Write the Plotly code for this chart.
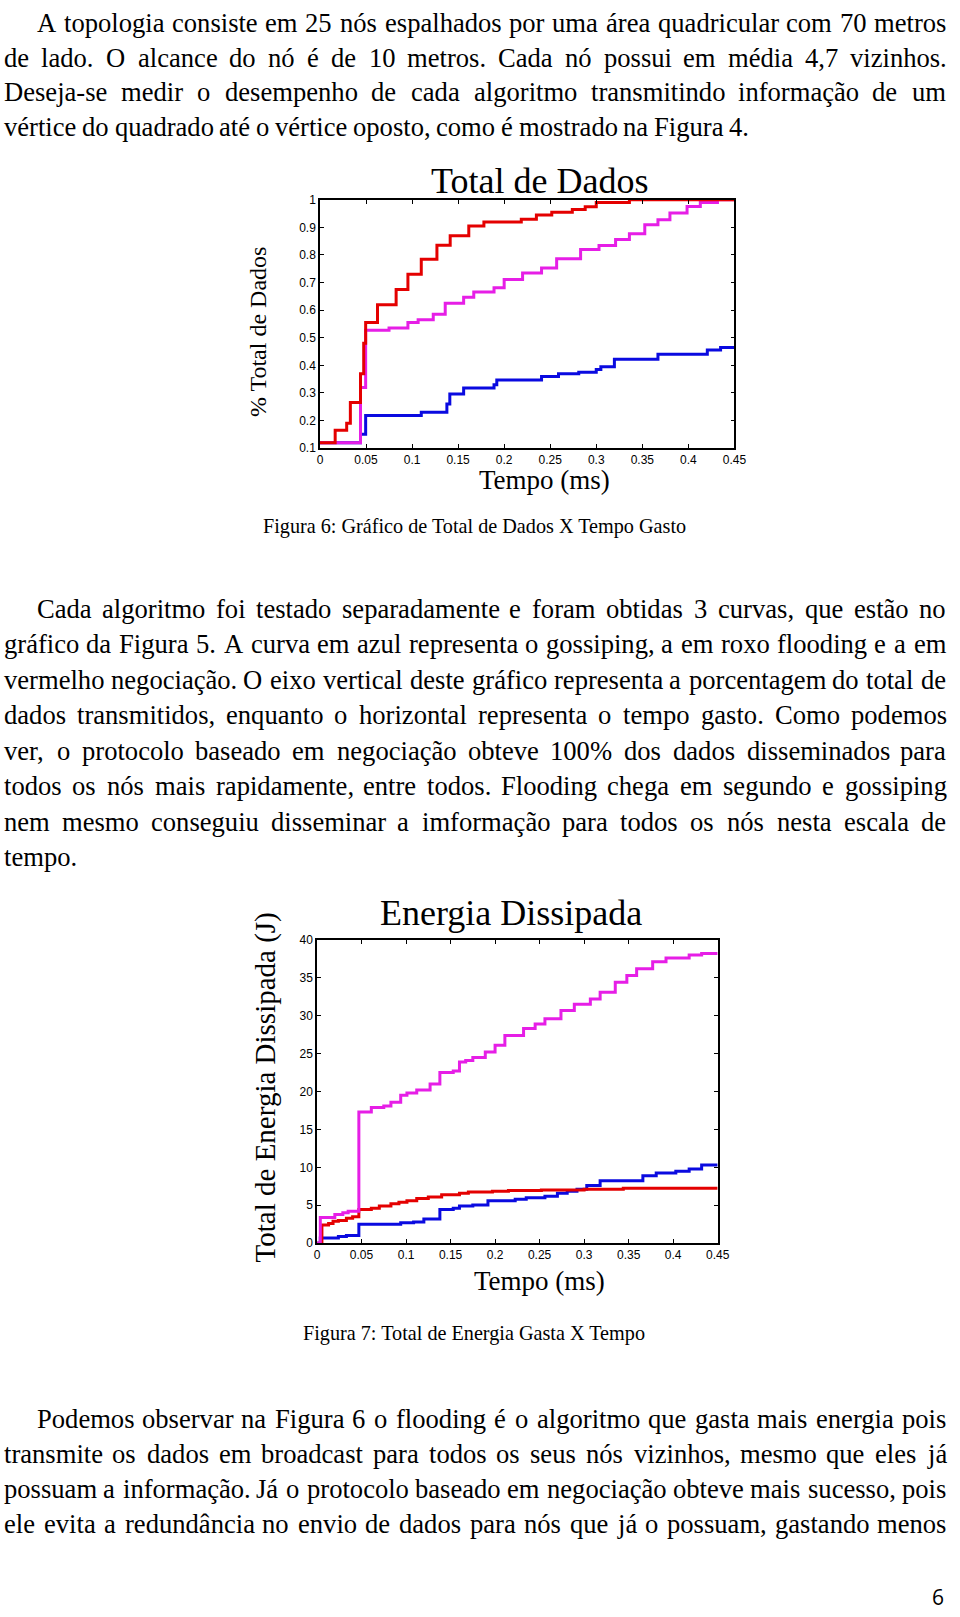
import unicodedata
import plotly.graph_objects as go

# ---------------- data: Figura 6 (Total de Dados) ----------------
dados_neg_t = [0, 0.0165, 0.029, 0.033, 0.044, 0.0475, 0.0496, 0.0625, 0.0827, 0.0955, 0.110, 0.127,
               0.1414, 0.1616, 0.178, 0.2186, 0.235, 0.2517, 0.274, 0.288, 0.300, 0.336, 0.45]
dados_neg_v = [0.12, 0.165, 0.19, 0.265, 0.37, 0.48, 0.555, 0.62, 0.675, 0.73, 0.785, 0.835,
               0.87, 0.905, 0.92, 0.93, 0.945, 0.955, 0.965, 0.975, 0.99, 1.0, 1.0]

dados_flood_t = [0, 0.044, 0.0496, 0.075, 0.0955, 0.1066, 0.123, 0.136, 0.156, 0.167, 0.189, 0.200,
                 0.220, 0.2406, 0.257, 0.283, 0.303, 0.321, 0.336, 0.3527, 0.367, 0.380, 0.3986,
                 0.413, 0.4316, 0.45]
dados_flood_v = [0.12, 0.32, 0.527, 0.535, 0.555, 0.565, 0.585, 0.625, 0.647, 0.666, 0.681, 0.711,
                 0.735, 0.753, 0.786, 0.82, 0.834, 0.856, 0.877, 0.91, 0.928, 0.952, 0.976,
                 0.99, 1.0, 1.0]

dados_goss_t = [0, 0.044, 0.0496, 0.110, 0.1378, 0.141, 0.156, 0.189, 0.192, 0.2406, 0.259, 0.281,
                0.300, 0.305, 0.3197, 0.367, 0.4206, 0.435, 0.45]
dados_goss_v = [0.12, 0.15, 0.218, 0.23, 0.26, 0.296, 0.318, 0.33, 0.347, 0.36, 0.37, 0.375,
                0.385, 0.395, 0.4225, 0.44, 0.456, 0.465, 0.465]

# ---------------- data: Figura 7 (Energia Dissipada) ----------------
ener_flood_t = [0, 0.0037, 0.020, 0.029, 0.035, 0.047, 0.061, 0.075, 0.083, 0.094, 0.101, 0.112,
                0.127, 0.138, 0.153, 0.160, 0.167, 0.175, 0.189, 0.200, 0.211, 0.232, 0.245,
                0.256, 0.274, 0.289, 0.307, 0.318, 0.335, 0.348, 0.359, 0.377, 0.392, 0.418,
                0.432, 0.45]
ener_flood_v = [0, 3.4, 3.8, 4.0, 4.2, 17.3, 17.9, 18.1, 18.6, 19.5, 19.8, 20.2,
                21.0, 22.5, 22.7, 23.9, 24.1, 24.5, 25.2, 26.1, 27.4, 28.3, 28.9,
                29.6, 30.7, 31.5, 32.2, 33.1, 34.4, 35.3, 36.2, 37.1, 37.6, 38.0,
                38.2, 38.2]

ener_neg_t = [0, 0.0055, 0.013, 0.018, 0.024, 0.033, 0.040, 0.047, 0.061, 0.070, 0.083, 0.092,
              0.101, 0.112, 0.125, 0.140, 0.160, 0.170, 0.197, 0.215, 0.252, 0.300, 0.344, 0.45]
ener_neg_v = [0, 2.4, 2.6, 2.9, 3.0, 3.3, 3.5, 4.45, 4.6, 4.9, 5.2, 5.4,
              5.6, 5.9, 6.1, 6.4, 6.6, 6.75, 6.85, 6.95, 7.0, 7.1, 7.25, 7.25]

ener_goss_t = [0, 0.0037, 0.024, 0.033, 0.047, 0.094, 0.1085, 0.120, 0.138, 0.153, 0.160, 0.175,
               0.192, 0.2226, 0.235, 0.256, 0.270, 0.281, 0.292, 0.303, 0.318, 0.366, 0.381,
               0.403, 0.418, 0.432, 0.45]
ener_goss_v = [0, 0.7, 0.9, 1.0, 2.5, 2.7, 2.8, 3.2, 4.45, 4.6, 4.9, 5.05,
               5.6, 5.8, 6.0, 6.2, 6.6, 6.85, 7.1, 7.6, 8.25, 8.9, 9.25,
               9.5, 9.8, 10.3, 10.3]

x_ticks = [0, 0.05, 0.1, 0.15, 0.2, 0.25, 0.3, 0.35, 0.4, 0.45]
x_tick_labels = ["0", "0.05", "0.1", "0.15", "0.2", "0.25", "0.3", "0.35", "0.4", "0.45"]
y1_ticks = [0.1, 0.2, 0.3, 0.4, 0.5, 0.6, 0.7, 0.8, 0.9, 1.0]
y1_tick_labels = ["0.1", "0.2", "0.3", "0.4", "0.5", "0.6", "0.7", "0.8", "0.9", "1"]
y2_ticks = [0, 5, 10, 15, 20, 25, 30, 35, 40]
y2_tick_labels = ["0", "5", "10", "15", "20", "25", "30", "35", "40"]

# ---------------- page text ----------------
para1 = ["A topologia consiste em 25 nós espalhados por uma área quadricular com 70 metros",
         "de lado. O alcance do nó é de 10 metros. Cada nó possui em média 4,7 vizinhos.",
         "Deseja-se medir o desempenho de cada algoritmo transmitindo informação de um",
         "vértice do quadrado até o vértice oposto, como é mostrado na Figura 4."]
para2 = ["Cada algoritmo foi testado separadamente e foram obtidas 3 curvas, que estão no",
         "gráfico da Figura 5. A curva em azul representa o gossiping, a em roxo flooding e a em",
         "vermelho negociação. O eixo vertical deste gráfico representa a porcentagem do total de",
         "dados transmitidos, enquanto o horizontal representa o tempo gasto. Como podemos",
         "ver, o protocolo baseado em negociação obteve 100% dos dados disseminados para",
         "todos os nós mais rapidamente, entre todos. Flooding chega em segundo e gossiping",
         "nem mesmo conseguiu disseminar a imformação para todos os nós nesta escala de",
         "tempo."]
para3 = ["Podemos observar na Figura 6 o flooding é o algoritmo que gasta mais energia pois",
         "transmite os dados em broadcast para todos os seus nós vizinhos, mesmo que eles já",
         "possuam a informação. Já o protocolo baseado em negociação obteve mais sucesso, pois",
         "ele evita a redundância no envio de dados para nós que já o possuam, gastando menos"]
caption1 = "Figura 6: Gráfico de Total de Dados X Tempo Gasto"
caption2 = "Figura 7: Total de Energia Gasta X Tempo"
title1 = "Total de Dados"
title2 = "Energia Dissipada"
xlabel = "Tempo (ms)"
ylabel1 = "% Total de Dados"
ylabel2 = "Total de Energia Dissipada (J)"
page_number = "6"

# ---------------- styling / layout helpers ----------------
W, H = 960, 1617
SERIF = "Liberation Serif, Times New Roman, serif"
SANS = "Liberation Sans, Arial, sans-serif"
RED, MAG, BLUE = "#e40000", "#e61ee6", "#0a0ae0"

TW = {' ': 250, '!': 333, '%': 833, '(': 333, ')': 333, ',': 250, '-': 333, '.': 250, ':': 278,
      'A': 722, 'B': 667, 'C': 667, 'D': 722, 'E': 611, 'F': 556, 'G': 722, 'H': 722, 'I': 333,
      'J': 389, 'K': 722, 'L': 611, 'M': 889, 'N': 722, 'O': 722, 'P': 556, 'Q': 722, 'R': 667,
      'S': 556, 'T': 611, 'U': 722, 'V': 722, 'W': 944, 'X': 722, 'Y': 722, 'Z': 611,
      'a': 444, 'b': 500, 'c': 444, 'd': 500, 'e': 444, 'f': 333, 'g': 500, 'h': 500, 'i': 278,
      'j': 278, 'k': 500, 'l': 278, 'm': 778, 'n': 500, 'o': 500, 'p': 500, 'q': 500, 'r': 333,
      's': 389, 't': 278, 'u': 500, 'v': 500, 'w': 722, 'x': 500, 'y': 500, 'z': 444}


def tw(s, size):
    tot = 0
    for ch in s:
        base = unicodedata.normalize("NFD", ch)[0]
        tot += 500 if base.isdigit() else TW.get(base, 500)
    return tot * size / 1000.0


annotations = []


def add_text(text, px, py, size, anchor="left", family=SERIF, angle=0):
    annotations.append(dict(text=text, x=px / W, y=1 - py / H, xref="paper", yref="paper",
                            xanchor=anchor, yanchor="middle", showarrow=False, textangle=angle,
                            font=dict(family=family, size=size, color="black"), borderpad=0))


BODY = 26.6
LEFT, RIGHT, INDENT = 0.0, 956.5, 33.5


def add_paragraph(lines, ys, justify_last=False):
    for i, (line, py) in enumerate(zip(lines, ys)):
        x0 = INDENT if i == 0 else LEFT
        words = line.split()
        widths = [tw(w, BODY) for w in words]
        last = (i == len(lines) - 1) and not justify_last
        if last or len(words) == 1:
            gap = tw(" ", BODY)
        else:
            gap = (RIGHT - x0 - sum(widths)) / (len(words) - 1)
        x = x0
        for w, wd in zip(words, widths):
            add_text(w, x, py, BODY)
            x += wd + gap


add_paragraph(para1, [16, 51, 86, 121])
add_paragraph(para2, [607, 642.8, 678.6, 714.4, 750.2, 786, 821.8, 857.6])
add_paragraph(para3, [1424, 1459.3, 1494.6, 1530], justify_last=True)

add_text(caption1, 479, 524, 20.2, anchor="center")
add_text(caption2, 478.5, 1338, 20.2, anchor="center")
add_text(page_number, 950, 1604, 21, anchor="center", family="Open Sans, Liberation Sans, sans-serif")

# chart titles and axis labels
add_text(title1, 545, 176, 36, anchor="center")
add_text(xlabel, 550, 477, 27, anchor="center")
add_text(ylabel1, 259, 327, 24, anchor="center", angle=-90)
add_text(title2, 516, 914, 36, anchor="center")
add_text(xlabel, 545, 1285, 27, anchor="center")
add_text(ylabel2, 267, 1090, 29, anchor="center", angle=-90)

# ---------------- figure ----------------
fig = go.Figure()


def add_series(t, v, color, xa, ya):
    fig.add_trace(go.Scatter(x=t, y=v, mode="lines", line=dict(color=color, width=3, shape="hv"),
                             xaxis=xa, yaxis=ya, showlegend=False, hoverinfo="skip"))


add_series(dados_goss_t, dados_goss_v, BLUE, "x", "y")
add_series(dados_flood_t, dados_flood_v, MAG, "x", "y")
add_series(dados_neg_t, dados_neg_v, RED, "x", "y")
add_series(ener_goss_t, ener_goss_v, BLUE, "x2", "y2")
add_series(ener_neg_t, ener_neg_v, RED, "x2", "y2")
add_series(ener_flood_t, ener_flood_v, MAG, "x2", "y2")

axis_common = dict(showgrid=False, zeroline=False, showline=True, linecolor="black", linewidth=1.5,
                   mirror="ticks", ticks="inside", ticklen=4, tickwidth=1, tickcolor="black",
                   tickfont=dict(family=SANS, size=12, color="black"))

# The figure is first drawn slightly smaller, so that together with the browser's default
# 8px body margin the page never exceeds the 960x1617 window; the post script then removes
# the margin and sets the final 960x1617 size (all positions are fractions of the page).
fig.update_layout(
    width=W - 16, height=H - 16, autosize=False,
    margin=dict(l=0, r=0, t=0, b=0),
    paper_bgcolor="white", plot_bgcolor="white",
    xaxis=dict(domain=[322 / W, 743 / W], range=[0, 0.45], tickvals=x_ticks, ticktext=x_tick_labels,
               anchor="y", **axis_common),
    yaxis=dict(domain=[1 - 445 / H, 1 - 194.5 / H], range=[0.1, 1.0], tickvals=y1_ticks,
               ticktext=y1_tick_labels, anchor="x", **axis_common),
    xaxis2=dict(domain=[319 / W, 726 / W], range=[0, 0.45], tickvals=x_ticks, ticktext=x_tick_labels,
                anchor="y2", **axis_common),
    yaxis2=dict(domain=[1 - 1247 / H, 1 - 941 / H], range=[0, 40], tickvals=y2_ticks,
                ticktext=y2_tick_labels, anchor="x2", **axis_common),
    annotations=annotations,
)

page_js = (
    "var d=document.documentElement,b=document.body;"
    "[d,b].forEach(function(e){e.style.margin='0';e.style.padding='0';e.style.overflow='hidden';});"
    "var g=document.getElementById('{plot_id}');"
    "Plotly.relayout(g,{width:%d,height:%d});" % (W, H)
)

fig.write_html("out.html", config={"displayModeBar": False}, post_script=page_js)
